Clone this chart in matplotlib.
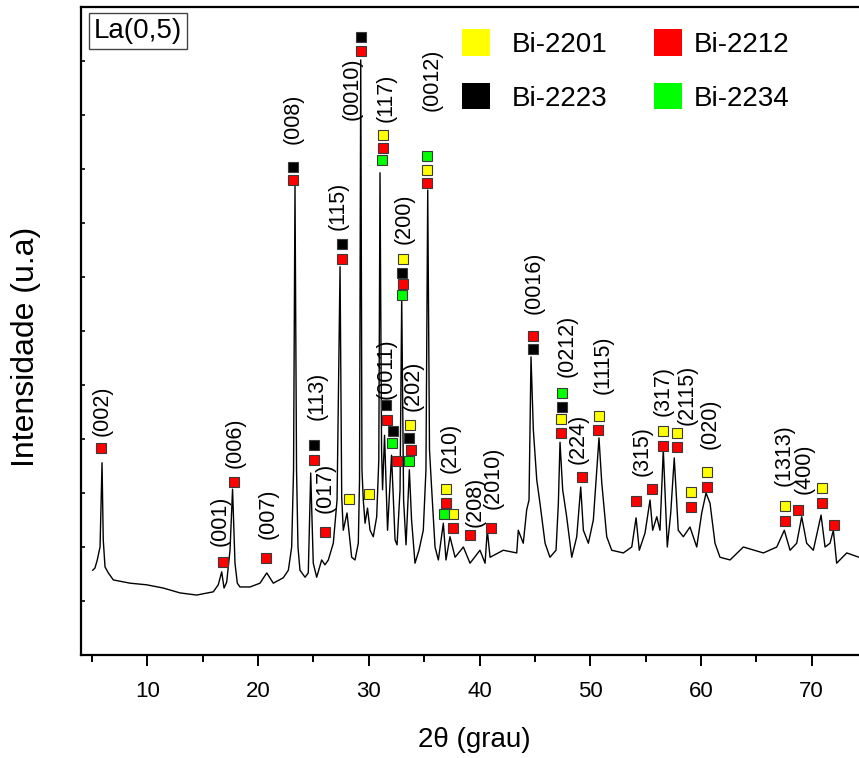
import matplotlib
matplotlib.use("Agg")
import matplotlib.pyplot as plt
from matplotlib.patches import Patch

plt.rcParams['font.family'] = ['Liberation Sans', 'DejaVu Sans']

# Diffraction pattern of the La(0,5) sample, traced as (2theta, intensity) vertices
two_theta = [5.06, 5.26, 5.47, 5.72, 5.90, 6.01, 6.17, 6.47, 6.92, 8.43, 9.93, 11.43, 12.94,
             14.45, 15.95, 16.40, 16.71, 16.92, 17.16, 17.46, 17.69, 17.91, 18.12, 18.36,
             19.27, 20.17, 20.78, 21.37, 22.27, 22.73, 23.03, 23.20, 23.33, 23.47, 23.60,
             23.78, 24.24, 24.53, 24.75, 24.98, 25.29, 25.74, 26.04, 26.34, 26.79, 27.13,
             27.40, 27.55, 27.69, 28.03, 28.45, 28.75, 29.05, 29.16, 29.27, 29.38, 29.50,
             29.66, 29.88, 30.11, 30.40, 30.71, 30.90, 31.01, 31.15, 31.24, 31.42, 31.69,
             32.05, 32.37, 32.55, 32.82, 32.97, 33.14, 33.36, 33.66, 33.86, 34.17, 34.53,
             34.92, 35.16, 35.32, 35.48, 35.68, 35.98, 36.28, 36.73, 36.97, 37.33, 37.79,
             38.54, 39.14, 40.04, 40.50, 40.70, 40.95, 42.15, 43.36, 43.50, 43.95, 44.26,
             44.47, 44.65, 44.86, 45.17, 45.46, 45.92, 46.36, 46.91, 47.12, 47.27, 47.51,
             47.87, 48.33, 48.78, 49.14, 49.38, 49.83, 50.28, 50.79, 51.04, 51.49, 51.94,
             52.99, 53.75, 54.14, 54.43, 54.95, 55.40, 55.64, 56.01, 56.30, 56.60, 56.96,
             57.27, 57.59, 57.95, 58.41, 59.01, 59.62, 60.07, 60.46, 60.82, 61.27, 61.72,
             62.63, 63.83, 65.64, 66.85, 67.53, 68.05, 68.65, 69.10, 69.55, 70.15, 70.85,
             71.21, 71.66, 71.96, 72.26, 73.17, 74.28]
intensity = [1.57, 1.61, 1.76, 2.00, 3.56, 2.13, 1.63, 1.52, 1.39, 1.33, 1.30, 1.24, 1.15,
             1.11, 1.17, 1.30, 1.54, 1.24, 1.35, 1.94, 3.07, 1.70, 1.33, 1.26,
             1.26, 1.33, 1.52, 1.33, 1.43, 1.57, 2.00, 3.43, 8.69, 3.43, 2.00,
             1.57, 1.44, 1.52, 3.37, 1.70, 1.44, 1.76, 1.67, 1.76, 2.07, 2.87,
             7.19, 2.93, 2.31, 2.63, 1.81, 1.76, 2.07, 3.24, 11.02, 3.43, 2.87,
             2.44, 2.72, 2.31, 2.19, 2.56, 3.61, 8.93, 3.80, 3.06, 4.07, 2.31,
             3.70, 2.13, 2.04, 3.06, 6.63, 2.87, 2.04, 3.43, 2.50, 1.70, 1.94,
             2.31, 3.43, 8.61, 3.80, 3.06, 2.00, 1.76, 2.44, 1.76, 2.19, 1.81,
             2.00, 1.70, 1.94, 1.70, 2.31, 1.81, 1.94, 1.89, 2.31, 2.07, 2.69,
             2.87, 5.52, 4.17, 3.24, 2.81, 2.07, 1.81, 1.94, 2.81, 3.94, 3.06,
             2.56, 1.81, 2.19, 3.11, 2.31, 2.07, 2.50, 4.02, 3.19, 2.19, 1.94,
             1.89, 2.00, 2.54, 1.94, 2.26, 2.87, 2.31, 2.56, 2.31, 3.80, 2.00,
             2.63, 3.65, 2.31, 2.19, 2.37, 2.00, 2.63, 3.00, 2.81, 2.07, 1.81,
             1.76, 2.00, 1.89, 2.00, 2.31, 1.94, 2.07, 2.56, 2.07, 1.94, 2.59,
             2.00, 2.07, 2.31, 1.70, 1.89, 1.81]

# Phase identification markers (2theta, height)
bi2212_x = [5.81, 16.85, 17.82, 20.68, 23.18, 25.08, 26.04, 27.60, 29.27, 31.31, 31.62, 32.57,
            33.06, 33.78, 35.23, 36.97, 37.58, 39.14, 41.01, 44.86, 47.33, 49.23, 50.68,
            54.14, 55.55, 56.60, 57.81, 59.13, 60.52, 67.60, 68.80, 70.91, 72.05]
bi2212_y = [3.83, 1.72, 3.20, 1.79, 8.80, 3.62, 2.28, 7.33, 11.19, 9.38, 4.36, 3.59,
            6.87, 3.80, 8.75, 2.81, 2.36, 2.22, 2.36, 5.91, 4.12, 3.29, 4.17,
            2.86, 3.07, 3.87, 3.85, 2.75, 3.12, 2.48, 2.69, 2.82, 2.41]
bi2201_x = [28.21, 30.04, 31.31, 33.06, 33.72, 35.23, 36.97, 37.58, 47.33, 50.79, 56.60,
            57.81, 59.13, 60.52, 67.60, 70.91]
bi2201_y = [2.88, 2.99, 9.63, 7.34, 4.26, 8.99, 3.07, 2.61, 4.37, 4.43, 4.14,
            4.12, 3.01, 3.38, 2.76, 3.09]
bi2223_x = [23.18, 25.08, 27.60, 29.27, 31.53, 32.21, 32.97, 33.66, 44.86, 47.48]
bi2223_y = [9.04, 3.89, 7.61, 11.45, 4.63, 4.14, 7.08, 4.01, 5.66, 4.60]
bi2234_x = [31.16, 32.12, 32.97, 33.66, 35.23, 36.79, 47.48]
bi2234_y = [9.17, 3.92, 6.66, 3.59, 9.24, 2.61, 4.86]

# Miller index labels
hkl_text = ['(002)', '(001)', '(006)', '(007)', '(008)', '(113)', '(017)', '(115)', '(0010)',
            '(117)', '(0011)', '(200)', '(202)', '(0012)', '(210)', '(208)', '(2010)',
            '(0016)', '(0212)', '(224)', '(1115)', '(315)', '(317)', '(2115)', '(020)',
            '(1313)', '(400)']
hkl_x = [5.90, 16.56, 17.91, 20.89, 23.15, 25.32, 26.04, 27.22, 28.48, 31.55, 31.55, 33.18,
         33.99, 35.71, 37.33, 39.59, 41.22, 44.92, 47.90, 48.90, 51.16, 54.68, 56.57, 58.74,
         60.82, 67.55, 69.35]
hkl_y = [4.52, 2.48, 3.93, 2.61, 9.93, 4.80, 3.09, 8.31, 10.48, 10.31, 5.30, 8.07,
         4.98, 10.65, 3.83, 2.83, 3.28, 6.89, 5.72, 4.00, 5.37, 3.78, 4.89, 4.81,
         4.28, 3.70, 3.44]

phase_colors = {'Bi-2201': '#ffff00', 'Bi-2212': '#ff0000',
                'Bi-2223': '#000000', 'Bi-2234': '#00ff00'}
legend_left = ['Bi-2201', 'Bi-2223']
legend_right = ['Bi-2212', 'Bi-2234']

W, H = 859, 758
fig = plt.figure(figsize=(W / 100, H / 100), dpi=100)
ax = fig.add_axes([81 / W, 1 - 655 / H, (867 - 81) / W, (655 - 7) / H])

ax.plot(two_theta, intensity, color='black', lw=1.0, zorder=2)

marker_kw = dict(marker='s', ms=6.5, ls='none', mec='#3a3a3a', mew=0.8, zorder=3)
ax.plot(bi2212_x, bi2212_y, mfc=phase_colors['Bi-2212'], **marker_kw)
ax.plot(bi2201_x, bi2201_y, mfc=phase_colors['Bi-2201'], **marker_kw)
ax.plot(bi2223_x, bi2223_y, mfc=phase_colors['Bi-2223'], **marker_kw)
ax.plot(bi2234_x, bi2234_y, mfc=phase_colors['Bi-2234'], **marker_kw)

for t, x, y in zip(hkl_text, hkl_x, hkl_y):
    ax.text(x, y, t, rotation=90, ha='center', va='center', fontsize=15.5, zorder=4)

ax.set_xlim(4, 75)
ax.set_ylim(0, 12)
ax.set_xticks(range(10, 71, 10))
ax.set_xticks(range(5, 76, 10), minor=True)
ax.set_yticks(range(1, 12))
ax.set_yticklabels([])
ax.tick_params(axis='x', which='major', direction='out', length=8, width=1.4,
               labelsize=16, pad=11)
ax.tick_params(axis='x', which='minor', direction='out', length=5, width=1.4)
ax.tick_params(axis='y', which='major', direction='in', length=3, width=1.2)

for side in ('left', 'top', 'bottom'):
    ax.spines[side].set_linewidth(1.6)
ax.spines['right'].set_visible(False)

ax.set_xlabel('2θ (grau)', fontsize=20, labelpad=18)
ax.set_ylabel('Intensidade (u.a)', fontsize=23)
ax.yaxis.set_label_coords(-0.051, 0.475)

ax.text(0.016, 0.983, 'La(0,5)', transform=ax.transAxes, ha='left', va='top', fontsize=20,
        bbox=dict(boxstyle='square,pad=0.17', fc='white', ec='#444444', lw=1.0), zorder=5)

legend_kw = dict(loc='upper left', frameon=False, fontsize=20, handlelength=1.0,
                 handleheight=1.1, labelspacing=0.9, borderpad=0, borderaxespad=0)
leg1 = ax.legend(handles=[Patch(facecolor=phase_colors[p], edgecolor='none', label=p)
                          for p in legend_left],
                 bbox_to_anchor=((462 - 81) / 786, (655 - 29) / 648),
                 handletextpad=0.78, **legend_kw)
ax.add_artist(leg1)
ax.legend(handles=[Patch(facecolor=phase_colors[p], edgecolor='none', label=p)
                   for p in legend_right],
          bbox_to_anchor=((654 - 81) / 786, (655 - 29) / 648),
          handletextpad=0.42, **legend_kw)

fig.savefig('out.png', dpi=100)
